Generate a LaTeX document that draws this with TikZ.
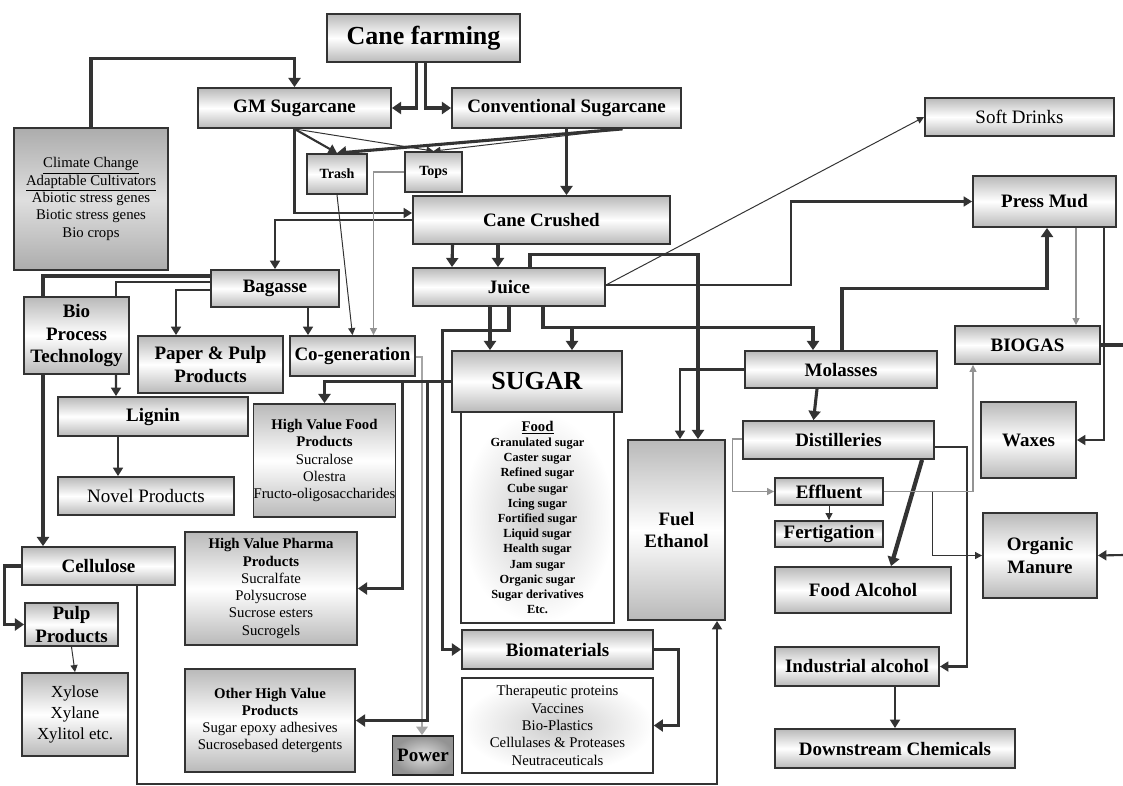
\documentclass[tikz,border=0pt]{standalone}
\usepackage{fontspec}
\setmainfont{Liberation Serif}
\usetikzlibrary{arrows.meta,calc}
\pgfdeclarelayer{background}
\pgfsetlayers{background,main}
\def\hugelab{\bfseries\fontsize{18.5}{21}\selectfont}
\def\boxlab{\bfseries\fontsize{13.5}{15.8}\selectfont}
\def\plainlab{\fontsize{13.5}{15.8}\selectfont}
\def\smalllab{\bfseries\fontsize{10}{12}\selectfont}
\def\itemlab{\fontsize{10.5}{12.3}\selectfont}
\def\sugarlab{\bfseries\fontsize{8.8}{10.8}\selectfont}
\def\xylab{\fontsize{12}{15}\selectfont}
\def\barlist{{(294.5,108)/193/40/gm/GM Sugarcane}, {(566.5,108)/229/40/conv/Conventional Sugarcane},
  {(541.5,220)/257/48/crushed/Cane Crushed}, {(1044.5,201.5)/143/51/pressmud/Press Mud},
  {(275,288.5)/128/37/bagasse/Bagasse}, {(509,287)/192/38/juice/Juice},
  {(76.5,335.5)/105/77/bpt/Bio\\Process\\Technology}, {(210.5,364.5)/145/57/paper/Paper \& Pulp\\Products},
  {(352.5,356)/125/40/cogen/Co-generation}, {(841,369.5)/192/37/molasses/Molasses},
  {(1027.5,345)/145/38/biogas/BIOGAS}, {(153,416.5)/190/39/lignin/Lignin},
  {(838.5,440)/191/38/distill/Distilleries}, {(676.5,530)/97/180/fuel/Fuel\\Ethanol},
  {(1028.5,440)/95/76/waxes/Waxes}, {(829,491.5)/108/27/effluent/Effluent},
  {(829,534)/108/26/fert/Fertigation}, {(1040,555.5)/114/85/manure/Organic\\Manure},
  {(98.5,566)/153/38/cellulose/Cellulose}, {(71.5,624.5)/93/43/pulp/Pulp\\Products},
  {(863,590)/176/46/foodalc/Food Alcohol}, {(557.5,649.5)/191/39/biomat/Biomaterials},
  {(857,666.5)/164/39/indalc/Industrial alcohol}, {(895,748.5)/240/39/downstream/Downstream Chemicals}}
\tikzstyle{bar}=[draw=black!80, line width=1.3pt, top color=gray!55, bottom color=gray!55, middle color=white, align=center, inner sep=0pt, font=\boxlab]
\tikzstyle{bar-dark}=[draw=black!80, line width=1.3pt, top color=gray!65, bottom color=gray!65, middle color=gray!25, align=center, inner sep=0pt]
\tikzstyle{list-box}=[draw=black!80, line width=1.1pt, inner color=gray!40, outer color=white, align=center, inner sep=0pt]
\tikzstyle{power-box}=[draw=black!85, line width=1.3pt, inner color=gray!25, outer color=gray!85, font=\boxlab]
\tikzstyle{flow_1}=[draw=black!80, line width=0.7pt, -{Triangle[length=5pt,width=5pt]}]
\tikzstyle{flow_2}=[draw=black!80, line width=1.5pt, -{Triangle[length=6pt,width=7pt]}]
\tikzstyle{flow_3}=[draw=black!80, line width=2.2pt, -{Triangle[length=6.5pt,width=8.5pt]}]
\tikzstyle{flow-gray}=[draw=gray!85, line width=0.8pt, -{Triangle[length=5pt,width=5pt]}]
\tikzstyle{flow-power}=[draw=gray!70, line width=2pt, -{Triangle[length=6pt,width=8pt]}]

\begin{document}
\begin{tikzpicture}[x=0.025cm, y=-0.025cm]
  \useasboundingbox (0,0) rectangle (1123,785);

  % First the boxes
  \foreach \pos/\w/\h/\name/\txt in \barlist {
    \node[bar, minimum width=\w*0.025cm, minimum height=\h*0.025cm] (\name) at \pos {\txt};
  }

  \node[bar, font=\hugelab, minimum width=193*0.025cm, minimum height=48*0.025cm] (farming) at (423.5,38) {Cane farming};
  \node[bar, font=\smalllab, minimum width=60*0.025cm, minimum height=40*0.025cm] (trash) at (337,174) {Trash};
  \node[bar, font=\smalllab, minimum width=57*0.025cm, minimum height=40*0.025cm] (tops) at (433.5,172) {Tops};
  \node[bar, font=\plainlab, minimum width=189*0.025cm, minimum height=38*0.025cm] (soft) at (1019.5,117) {Soft Drinks};
  \node[bar, font=\plainlab, minimum width=176*0.025cm, minimum height=38*0.025cm] (novel) at (146,496) {Novel Products};
  \node[bar-dark, font=\itemlab, minimum width=154*0.025cm, minimum height=142*0.025cm] (climate) at (91,199)
    {\underline{Climate Change}\\\underline{Adaptable Cultivators}\\Abiotic stress genes\\Biotic stress genes\\Bio crops};
  \node[list-box, font=\sugarlab, minimum width=153*0.025cm, minimum height=211*0.025cm] (sugarlist) at (537.5,517.5)
    {{\fontsize{10.5}{12}\selectfont\underline{Food}}\\Granulated sugar\\Caster sugar\\Refined sugar\\Cube sugar\\Icing sugar\\Fortified sugar\\Liquid sugar\\Health sugar\\Jam sugar\\Organic sugar\\Sugar derivatives\\Etc.};
  \node[bar, font=\hugelab, minimum width=170*0.025cm, minimum height=61*0.025cm] (sugar) at (537,381.5) {SUGAR};
  \node[bar, font=\itemlab, minimum width=139*0.025cm, minimum height=113*0.025cm] (hvfood) at (324.5,460.5)
    {\textbf{High Value Food}\\\textbf{Products}\\Sucralose\\Olestra\\Fructo-oligosaccharides};
  \node[bar, font=\itemlab, minimum width=172*0.025cm, minimum height=113*0.025cm] (pharma) at (271,588.5)
    {\textbf{High Value Pharma}\\\textbf{Products}\\Sucralfate\\Polysucrose\\Sucrose esters\\Sucrogels};
  \node[bar, font=\itemlab, minimum width=170*0.025cm, minimum height=103*0.025cm] (otherhv) at (270,720.5)
    {\textbf{Other High Value}\\\textbf{Products}\\Sugar epoxy adhesives\\Sucrosebased detergents};
  \node[bar, font=\xylab, minimum width=106*0.025cm, minimum height=83*0.025cm] (xylose) at (75,714.5) {Xylose\\Xylane\\Xylitol etc.};
  \node[list-box, font=\itemlab, minimum width=191*0.025cm, minimum height=95*0.025cm] (biolist) at (557.5,725.5)
    {Therapeutic proteins\\Vaccines\\Bio-Plastics\\Cellulases \& Proteases\\Neutraceuticals};
  \node[power-box, minimum width=60*0.025cm, minimum height=39*0.025cm] (power) at (423,755.5) {Power};

  \coordinate (east-a) at (1123,345);
  \coordinate (east-b) at (1123,555);

  % Connect the boxes, behind them
  \begin{pgfonlayer}{background}
    \draw[flow_3] ($(farming.south)+(-7,0)$) |- (gm.east);
    \draw[flow_3] ($(farming.south)+(2,0)$) |- (conv.west);
    \draw[flow_3] (climate.north) |- ($(gm.north)+(0,-29)$) -- (gm.north);
    \draw[flow_2] (gm.south) -- (trash.north);
    \draw[flow_1] (gm.south) -- (tops.north);
    \draw[flow_3] ($(conv.south)+(56,0)$) -- (trash.north);
    \draw[flow_1] ($(conv.south)+(56,0)$) -- (tops.north);
    \draw[flow_3] (conv.south) -- (conv.south |- crushed.north);
    \draw[flow_2] (gm.south) |- ($(crushed.west)+(0,-7)$);
    \draw[flow_2] (crushed.west) -| (bagasse.north);
    \draw[flow_3] ($(crushed.south)+(-89,0)$) -- ($(juice.north)+(-57,0)$);
    \draw[flow_3] ($(crushed.south)+(-43.5,0)$) -- ($(juice.north)+(-11,0)$);
    \draw[flow_1] (trash.south) -- (cogen.north);
    \draw[flow-gray] (tops.west) -| ($(cogen.north)+(21,0)$);

    % Bagasse side
    \draw[flow_2] ($(bagasse.south)+(33,0)$) -- ($(cogen.north)+(-44.5,0)$);
    \draw[flow_2] ($(bagasse.west)+(0,1.5)$) -| ($(paper.north)+(-34.5,0)$);
    \draw[flow_2, -] ($(bagasse.west)+(0,-6.5)$) -| ($(bpt.north)+(39.5,0)$);
    \draw[flow_3] ($(bagasse.west)+(0,-12.5)$) -| ($(cellulose.north)+(-55.5,0)$);
    \draw[flow_2] ($(bpt.south)+(39.5,0)$) -- ($(lignin.north)+(-37,0)$);
    \draw[flow_2] ($(lignin.south)+(-35,0)$) -- ($(novel.north)+(-28,0)$);
    \draw[flow_3] (cellulose.west) -- ++(-17,0) |- (pulp.west);
    \draw[flow_1] (pulp.south) -- (xylose.north);
    \draw[flow_2] ($(cellulose.south)+(38.5,0)$) |- ($(fuel.south)+(40.5,163)$) -- ($(fuel.south)+(40.5,0)$);
    \draw[flow-power] ($(cogen.east)+(0,1)$) -| ($(power.north)+(-1,0)$);

    % Juice and sugar
    \draw[flow_3] ($(juice.south)+(-19,0)$) -- ($(sugar.north)+(-47,0)$);
    \draw[flow_3] (juice.south) -- ++(0,24) -| ($(biomat.west)+(-19,0)$) -- (biomat.west);
    \draw[flow_3] ($(juice.south)+(34,0)$) |- ($(molasses.north)+(-28,-23)$) -- ($(molasses.north)+(-28,0)$);
    \draw[flow_3] ($(sugar.north)+(35,-23)$) -- ($(sugar.north)+(35,0)$);
    \draw[flow_3] ($(juice.north)+(21,0)$) |- ($(fuel.north)+(21.5,-185)$) -- ($(fuel.north)+(21.5,0)$);
    \draw[flow_1] ($(juice.east)+(0,-2)$) -- (soft.west);
    \draw[flow_2] ($(juice.east)+(0,-2)$) -- ++(185,0) |- (pressmud.west);
    \draw[flow_3] (sugar.west) -| (hvfood.north);
    \draw[flow_3] ($(sugar.west)+(-49,0)$) |- (pharma.east);
    \draw[flow_3] ($(sugar.west)+(-24,0)$) |- (otherhv.east);
    \draw[flow_3] (biomat.east) -- ++(25,0) |- (biolist.east);

    % Molasses side
    \draw[flow_3] ($(molasses.north)+(1,0)$) |- ($(pressmud.south)+(2.5,61)$) -- ($(pressmud.south)+(2.5,0)$);
    \draw[flow_2] (molasses.west) -| ($(fuel.north)+(3.5,0)$);
    \draw[flow_3] ($(molasses.south)+(-24,0)$) -- ($(distill.north)+(-25,0)$);
    \draw[flow-gray] ($(distill.west)+(0,-1)$) -- ++(-10,0) |- (effluent.west);
    \draw[flow_1] (effluent.south) -- (fert.north);
    \draw[flow_3, line width=3pt] ($(distill.south)+(83.5,0)$) -- ($(foodalc.north)+(28,0)$);
    \draw[flow_2] ($(distill.east)+(0,7)$) -| ($(indalc.east)+(27,0)$) -- (indalc.east);
    \draw[flow-gray] (effluent.east) -| ($(biogas.south)+(-54.5,0)$);
    \draw[flow_1] ($(effluent.east)+(49,0)$) |- (manure.west);
    \draw[flow-gray] ($(pressmud.south)+(31.5,0)$) -- ($(biogas.north)+(48.5,0)$);
    \draw[flow_2] ($(pressmud.south)+(59.5,0)$) |- (waxes.east);
    \draw[flow_3, -] (biogas.east) -- (east-a);
    \draw[flow_2] (east-b) -- (manure.east);
    \draw[flow_2] ($(indalc.south)+(38,0)$) -- (downstream.north);
  \end{pgfonlayer}
\end{tikzpicture}
\end{document}
